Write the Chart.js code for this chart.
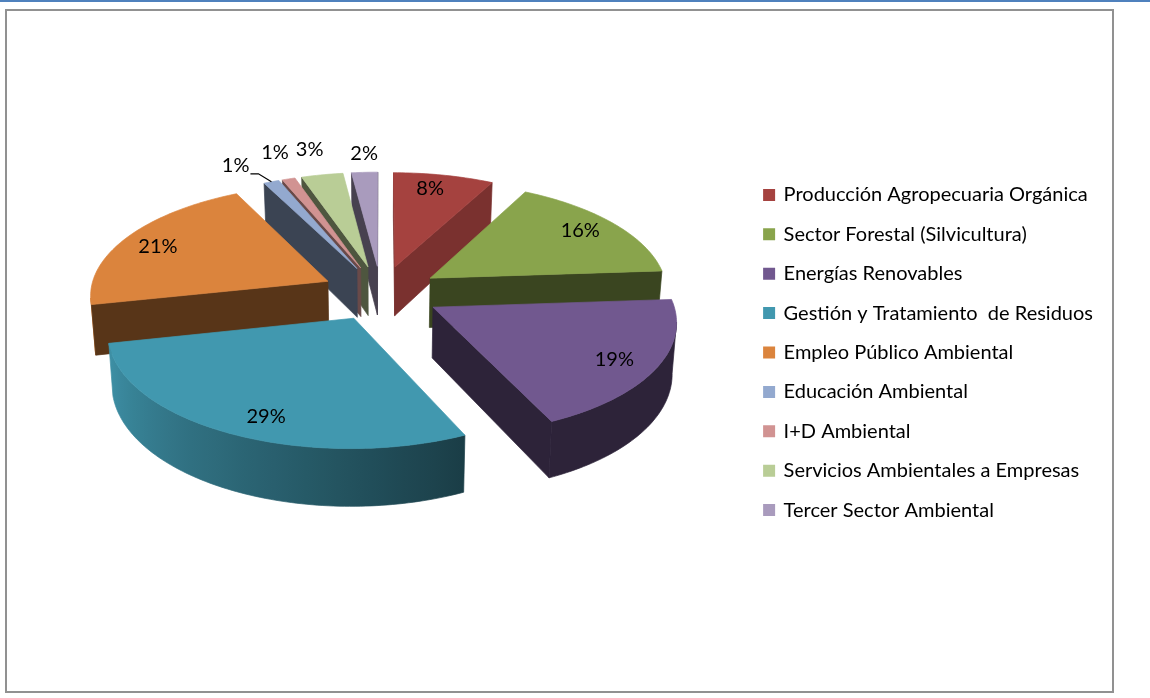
<!DOCTYPE html>
<html>
<head>
<meta charset="utf-8">
<title>Empleo verde por sector</title>
<script src="https://cdn.jsdelivr.net/npm/chart.js@4"></script>
<style>
  html, body { margin: 0; padding: 0; background: #fff; }
  #topBar { position: absolute; left: 0; top: 0; width: 1150px; height: 2px; background: #4f81bd; }
  #frame { position: absolute; left: 5px; top: 9px; width: 1105px; height: 680px; border: 2px solid #919191; }
  #myChart { position: absolute; left: 0; top: 0; }
</style>
</head>
<body>
<div id="topBar"></div>
<div id="frame"></div>
<canvas id="myChart" width="1150" height="698"></canvas>
<script>
const sectors = [
  "Producción Agropecuaria Orgánica",
  "Sector Forestal (Silvicultura)",
  "Energías Renovables",
  "Gestión y Tratamiento  de Residuos",
  "Empleo Público Ambiental",
  "Educación Ambiental",
  "I+D Ambiental",
  "Servicios Ambientales a Empresas",
  "Tercer Sector Ambiental"
];
// labels only show whole numbers, the decimals are estimated from the slice sizes
const percents = [7.7, 16.2, 19.2, 28.5, 21.0, 1.2, 1.0, 3.2, 2.0];
const sliceColors = ["#a5423f", "#89a44c", "#71588f", "#4198af", "#db843d", "#93a9cf", "#d19392", "#b9cd96", "#a99bbd"];

// how the flat pie gets tilted, all in pixels of the picture
const tilt = { cx: 381, cy: 293, rx: 238, ry: 110, k: 0.11, depth: 50, bottomScale: 0.985 };
const explode = 0.25;
const radialShade = [0.74, 0.42, 0.4, 0.4, 0.4, 0.4, 0.5, 0.42, 0.42];
const labelRadius = [0.83, 0.83, 0.83, 0.84, 0.83, 1.25, 1.32, 1.31, 1.23];
const labelShift = [-2, -1.4, 1.4, -4.2, -1.5, -4, 1.5, 0, 0.5]; // degrees
const labelFont = "20px Lato";

function shade(hex, factor) {
  const n = parseInt(hex.slice(1), 16);
  const r = Math.round((n >> 16 & 255) * factor);
  const g = Math.round((n >> 8 & 255) * factor);
  const b = Math.round((n & 255) * factor);
  return `rgb(${r},${g},${b})`;
}

// u is to the right, v goes away from the viewer, radius of the pie = 1
function project(u, v, low) {
  const f = 1 / (1 + tilt.k * v);
  let x = tilt.cx + tilt.rx * u * f;
  let y = tilt.cy - tilt.ry * v * f;
  if (low) {
    x = tilt.cx + (x - tilt.cx) * tilt.bottomScale;
    y += tilt.depth * f;
  }
  return { x, y };
}

function polar(arc, theta, r) {
  const mid = (arc.startAngle + arc.endAngle) / 2 + Math.PI / 2;
  return {
    u: explode * Math.sin(mid) + r * Math.sin(theta),
    v: explode * Math.cos(mid) + r * Math.cos(theta)
  };
}

function fillPoly(ctx, points, color) {
  ctx.beginPath();
  points.forEach((p, i) => (i ? ctx.lineTo(p.x, p.y) : ctx.moveTo(p.x, p.y)));
  ctx.closePath();
  ctx.fillStyle = color;
  ctx.strokeStyle = color;
  ctx.lineWidth = 0.7;
  ctx.fill();
  ctx.stroke();
}

// a wall is only seen when the outline runs leftwards on the screen
function radialWall(ctx, a, b, color) {
  const top1 = project(a.u, a.v);
  const top2 = project(b.u, b.v);
  if (top2.x >= top1.x) return;
  fillPoly(ctx, [top1, top2, project(b.u, b.v, true), project(a.u, a.v, true)], color);
}

// rim gets lighter going round the front from right to left
function rimShade(theta) {
  const deg = theta * 180 / Math.PI;
  if (deg < 155 || deg > 260) return 0.4;
  return 0.4 + Math.min(1, (deg - 155) / 100) * 0.55;
}

function rimWall(ctx, rim, color) {
  const seen = rim.filter((p, i) => {
    const next = rim[i + 1] || rim[i - 1];
    const a = project(p.u, p.v).x;
    const b = project(next.u, next.v).x;
    return i + 1 < rim.length ? b < a : a < b;
  });
  if (seen.length < 2) return;

  const tops = seen.map(p => project(p.u, p.v));
  const lows = seen.map(p => project(p.u, p.v, true)).reverse();
  const x0 = tops[0].x;
  const x1 = tops[tops.length - 1].x;
  const grad = ctx.createLinearGradient(x0, 0, x1, 0);
  seen.forEach((p, i) => {
    if (i % 6 === 0) grad.addColorStop((tops[i].x - x0) / (x1 - x0), shade(color, rimShade(p.theta)));
  });
  fillPoly(ctx, tops.concat(lows), grad);
}

function drawSlice(ctx, arc, index) {
  const color = sliceColors[index];
  const start = arc.startAngle + Math.PI / 2;
  const end = arc.endAngle + Math.PI / 2;
  const apex = polar(arc, 0, 0);
  const steps = Math.max(3, Math.ceil((end - start) / 0.02));
  const rim = [];
  for (let i = 0; i <= steps; i++) {
    const theta = start + (end - start) * i / steps;
    rim.push({ theta, ...polar(arc, theta, 1) });
  }

  rimWall(ctx, rim, color);
  radialWall(ctx, apex, rim[0], shade(color, radialShade[index]));
  radialWall(ctx, rim[steps], apex, shade(color, radialShade[index]));
  fillPoly(ctx, [project(apex.u, apex.v)].concat(rim.map(p => project(p.u, p.v))), color);
}

const pie3d = {
  id: "pie3d",
  beforeDatasetDraw(chart) {
    const ctx = chart.ctx;
    const arcs = chart.getDatasetMeta(0).data;
    const order = arcs.map((arc, i) => i).sort((a, b) => {
      const midA = (arcs[a].startAngle + arcs[a].endAngle) / 2 + Math.PI / 2;
      const midB = (arcs[b].startAngle + arcs[b].endAngle) / 2 + Math.PI / 2;
      return Math.cos(midB) - Math.cos(midA);
    });
    ctx.save();
    order.forEach(i => drawSlice(ctx, arcs[i], i));
    ctx.restore();
    return false;
  },
  afterDatasetsDraw(chart) {
    const ctx = chart.ctx;
    const arcs = chart.getDatasetMeta(0).data;
    ctx.save();
    ctx.font = labelFont;
    ctx.fillStyle = "#000";
    ctx.textAlign = "center";
    ctx.textBaseline = "middle";
    arcs.forEach((arc, i) => {
      const mid = (arc.startAngle + arc.endAngle) / 2 + Math.PI / 2 + labelShift[i] * Math.PI / 180;
      const p = polar(arc, mid, labelRadius[i]);
      const pos = project(p.u, p.v);
      ctx.fillText(Math.round(percents[i]) + "%", pos.x, pos.y);
    });

    // leader line of the first 1%
    const arc = arcs[5];
    const rimPoint = polar(arc, (arc.startAngle + arc.endAngle) / 2 + Math.PI / 2, 1);
    const end = project(rimPoint.u, rimPoint.v);
    ctx.beginPath();
    ctx.moveTo(end.x - 21, end.y - 8);
    ctx.lineTo(end.x - 13, end.y - 8);
    ctx.lineTo(end.x, end.y);
    ctx.strokeStyle = "#000";
    ctx.lineWidth = 1.2;
    ctx.stroke();
    ctx.restore();
  }
};

new Chart(document.getElementById("myChart"), {
  type: "pie",
  data: {
    labels: sectors,
    datasets: [{
      data: percents,
      backgroundColor: sliceColors,
      borderColor: sliceColors,
      borderWidth: 3
    }]
  },
  options: {
    responsive: false,
    animation: false,
    layout: { padding: { left: 19, right: 47, top: 13, bottom: 6 } },
    plugins: {
      tooltip: { enabled: false },
      legend: {
        position: "right",
        labels: {
          boxWidth: 9,
          boxHeight: 9,
          padding: 19.4,
          color: "#000",
          font: { family: "Lato", size: 20 }
        }
      }
    }
  },
  plugins: [pie3d]
});
</script>
</body>
</html>
